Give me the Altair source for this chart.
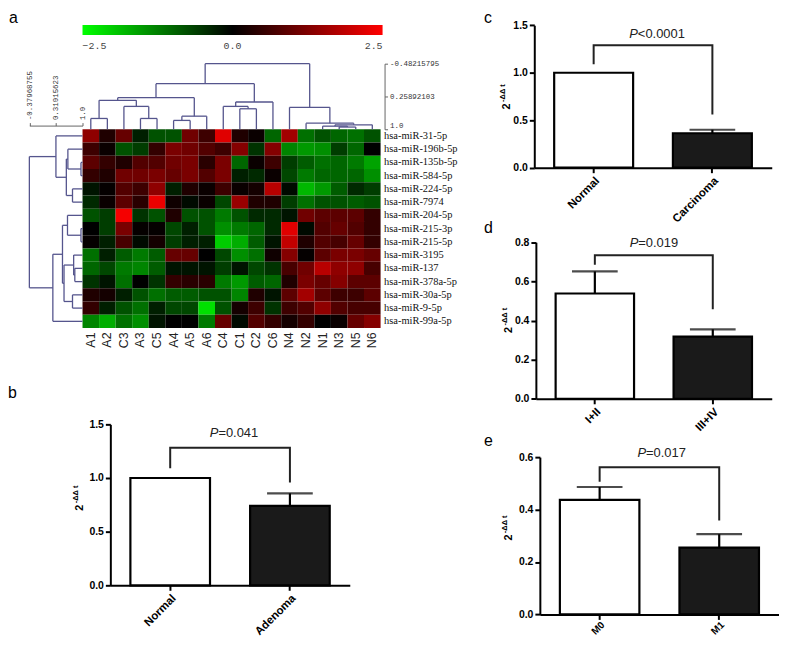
import json
import altair as alt
import pandas as pd

# ---------------- data ----------------
col_names = ["A1", "A2", "C3", "A3", "C5", "A4", "A5", "A6", "C4", "C1", "C2", "C6",
             "N4", "N2", "N1", "N3", "N5", "N6"]
row_names = ["hsa-miR-31-5p", "hsa-miR-196b-5p", "hsa-miR-135b-5p", "hsa-miR-584-5p",
             "hsa-miR-224-5p", "hsa-miR-7974", "hsa-miR-204-5p", "hsa-miR-215-3p",
             "hsa-miR-215-5p", "hsa-miR-3195", "hsa-miR-137", "hsa-miR-378a-5p",
             "hsa-miR-30a-5p", "hsa-miR-9-5p", "hsa-miR-99a-5p"]

mir_31_5p = [1.4, 0.3, 1.0, -0.3, -0.8, -0.8, 1.1, 0.6, 2.2, 0.3, 0.1, -1.0, 1.6, -1.1, -0.8, -1.0, -1.1, -0.8]
mir_196b_5p = [0.6, 0.1, -0.8, -0.6, 0.5, 1.2, 1.1, 0.8, 0.6, 1.3, -0.5, 1.3, -1.3, -1.5, -1.4, -0.6, -1.0, 0.0]
mir_135b_5p = [0.9, 0.5, 0.3, 0.8, 0.8, 1.1, 1.2, 0.4, 1.2, -1.0, 0.1, 0.6, -0.6, -0.9, -1.1, -1.0, -1.2, -1.6]
mir_584_5p = [0.5, 0.3, 1.1, 1.1, 1.2, 1.0, 1.2, 0.8, 1.2, -0.3, -0.4, 0.1, -0.7, -1.2, -1.0, -1.0, -1.0, -1.4]
mir_224_5p = [-0.2, 0.05, 0.8, 0.6, 1.4, -0.3, 0.3, 0.1, 0.6, 0.1, 0.2, 1.8, -0.1, -1.8, -1.5, -0.9, -0.4, -0.6]
mir_7974 = [-0.4, 0.1, 0.9, 0.4, 2.3, 0.15, -0.1, 0.1, -0.7, 1.5, 0.3, 0.3, -0.6, -1.1, -0.8, -0.8, -0.9, -0.8]
mir_204_5p = [-0.8, -0.6, 2.4, -0.5, -0.8, 0.3, -0.8, -0.8, -1.2, -0.8, -0.4, -0.4, -0.2, 1.1, 0.9, 0.9, 0.9, 0.5]
mir_215_3p = [0.0, -0.6, 1.2, 0.05, 0.05, -0.7, -0.3, -0.8, -1.4, -1.2, -1.0, -0.4, 2.2, -0.1, 0.8, 1.0, 0.8, 0.5]
mir_215_5p = [0.05, -0.3, 0.7, -0.1, 0.2, -0.6, -0.3, -0.3, -2.0, -1.7, -0.9, -0.2, 1.9, 0.3, 0.8, 0.7, 1.0, 0.5]
mir_3195 = [-1.1, -0.3, -0.9, -1.2, -0.9, 1.0, 1.0, 0.0, -0.7, -1.4, -1.1, 0.15, 1.3, 0.05, 0.9, 1.2, 1.2, 1.0]
mir_137 = [-1.0, -0.7, -1.2, -1.3, -0.9, -0.2, -0.2, -0.2, -0.6, -0.2, -0.7, -0.5, 0.7, 1.1, 1.8, 1.4, 1.4, 0.7]
mir_378a_5p = [-0.5, -0.2, -1.1, 0.0, -0.5, 0.5, 0.4, 0.4, -1.2, -1.5, -0.9, -1.0, 0.3, 1.2, 1.0, 1.3, 0.9, 0.9]
mir_30a_5p = [0.3, 0.2, -0.3, -0.8, -1.1, -0.9, -0.9, -0.8, -0.8, -1.3, 0.3, -0.2, 0.9, 1.6, 0.9, 0.6, 0.6, 0.9]
mir_9_5p = [0.5, -0.3, -0.8, -1.1, -0.3, -0.7, -0.7, -2.2, -0.8, 0.2, 0.6, -0.5, 0.6, 0.8, 1.4, 0.8, 0.7, 0.7]
mir_99a_5p = [-1.3, -1.7, -1.1, -1.4, -0.2, 0.0, 0.0, -1.2, 1.0, -0.1, 0.8, 0.5, 0.2, 0.5, 0.0, 0.1, 1.0, 1.3]

heat_matrix = [mir_31_5p, mir_196b_5p, mir_135b_5p, mir_584_5p, mir_224_5p, mir_7974,
               mir_204_5p, mir_215_3p, mir_215_5p, mir_3195, mir_137, mir_378a_5p,
               mir_30a_5p, mir_9_5p, mir_99a_5p]

color_ticks = [-2.5, 0.0, 2.5]

# column dendrogram: (child a, child b, merge height); leaves 0..17, merges numbered from 18
top_links = [(0, 1, 0.756), (3, 4, 0.756), (2, 19, 0.483), (18, 20, 0.346),
             (5, 6, 0.80), (22, 7, 0.704), (21, 23, 0.286),
             (9, 10, 0.537), (8, 25, 0.483), (26, 11, 0.384), (24, 27, -0.03),
             (15, 16, 0.95), (14, 29, 0.93), (30, 17, 0.90), (13, 31, 0.863), (12, 32, 0.505),
             (28, 33, -0.48215795)]
top_axis_values = [-0.48215795, 0.25892103, 1.0]
top_axis_labels = ["-0.48215795", "0.25892103", "1.0"]

# row dendrogram: leaves 0..14, merges numbered from 15
left_links = [(2, 3, 0.96), (1, 15, 0.62), (4, 5, 0.74), (16, 17, 0.58), (0, 18, 0.31),
              (7, 8, 0.96), (6, 20, 0.61), (10, 11, 0.80), (9, 22, 0.77), (12, 13, 0.74),
              (23, 24, 0.52), (21, 25, 0.48), (26, 14, 0.23), (19, 27, -0.37968755)]
left_axis_values = [-0.37968755, 0.31015623, 1.0]
left_axis_labels = ["-0.37968755", "0.31015623", "1.0"]

b_groups = ["Normal", "Adenoma"]
b_means = [1.0, 0.74]
b_err_groups = ["Adenoma"]
b_err_tops = [0.857]
b_bracket = [1.09, 1.283, 0.957]
b_p = "=0.041"
b_p_y = 1.415
b_ticks = [0.0, 0.5, 1.0, 1.5]

c_groups = ["Normal", "Carcinoma"]
c_means = [1.0, 0.363]
c_err_groups = ["Carcinoma"]
c_err_tops = [0.40]
c_bracket = [1.09, 1.29, 0.56]
c_p = "<0.0001"
c_p_y = 1.41
c_ticks = [0.0, 0.5, 1.0, 1.5]

d_groups = ["I+II", "III+IV"]
d_means = [0.538, 0.318]
d_err_groups = ["I+II", "III+IV"]
d_err_tops = [0.651, 0.355]
d_bracket = [0.685, 0.733, 0.458]
d_p = "=0.019"
d_p_y = 0.796
d_ticks = [0.0, 0.2, 0.4, 0.6, 0.8]

e_groups = ["M0", "M1"]
e_means = [0.437, 0.255]
e_err_groups = ["M0", "M1"]
e_err_tops = [0.486, 0.306]
e_bracket = [0.506, 0.561, 0.358]
e_p = "=0.017"
e_p_y = 0.615
e_ticks = [0.0, 0.2, 0.4, 0.6]

# ---------------- layout (chart coordinates) ----------------
W, H = 776, 632
SANS = "Liberation Sans"
DEND = "#55558d"

layers = []


def dendro_segments(links, n_leaves, base=1.0):
    pos = [i + 0.5 for i in range(n_leaves)]
    hgt = [base] * n_leaves
    legs, bars = [], []
    for a, b, h in links:
        for c in (a, b):
            legs.append({"p": pos[c], "h1": hgt[c], "h2": h})
        bars.append({"p1": pos[a], "p2": pos[b], "h": h})
        pos.append((pos[a] + pos[b]) / 2)
        hgt.append(h)
    return pd.DataFrame(legs), pd.DataFrame(bars)


def label_expr(values, labels):
    return f"{json.dumps(labels)}[indexof({json.dumps(values)}, datum.value)]"


# ---- panel a: heatmap ----
HX0, HX1, HY0, HY1 = 75, 375, 120, 320
heat_df = pd.DataFrame([{"row": rn, "col": cn, "v": v}
                        for rn, vals in zip(row_names, heat_matrix)
                        for cn, v in zip(col_names, vals)])

heat = alt.Chart(heat_df).mark_rect().encode(
    x=alt.X("col:N", sort=col_names,
            scale=alt.Scale(domain=col_names, range=[HX0, HX1], paddingInner=0, paddingOuter=0),
            axis=alt.Axis(orient="bottom", offset=HY1 - H, labelAngle=270, labelAlign="right",
                          labelBaseline="middle", labelPadding=4, domain=False, ticks=False,
                          labelFont=SANS, labelFontSize=12.5, labelColor="#222", title=None, grid=False)),
    y=alt.Y("row:N", sort=row_names,
            scale=alt.Scale(domain=row_names, range=[HY0, HY1], paddingInner=0, paddingOuter=0),
            axis=alt.Axis(orient="right", offset=HX1 - W, labelPadding=3, domain=False, ticks=False,
                          labelFont="Liberation Serif", labelFontSize=10.5, labelColor="#111",
                          title=None, grid=False)),
    color=alt.Color("v:Q",
                    scale=alt.Scale(domain=[-2.5, 0, 2.5], range=["#00ff00", "#000000", "#ff0000"],
                                    interpolate="rgb"),
                    legend=alt.Legend(orient="none", legendX=HX0, legendY=15, direction="horizontal",
                                      gradientLength=302, gradientThickness=10, title=None,
                                      values=color_ticks, format=".1f", labelFont="Liberation Mono",
                                      labelFontSize=10, labelColor="#444", labelOffset=6,
                                      padding=0, gradientStrokeWidth=0)),
)
layers.append(heat)

# top dendrogram
top_legs, top_bars = dendro_segments(top_links, len(col_names))
tx_scale = alt.Scale(domain=[0, len(col_names)], range=[HX0, HX1], nice=False, zero=False)
ty_scale = alt.Scale(domain=[top_axis_values[0], 1.0], range=[54, HY0], nice=False, zero=False)
layers.append(alt.Chart(top_legs).mark_rule(color=DEND, strokeWidth=1.3).encode(
    x=alt.X("p:Q", scale=tx_scale, axis=None),
    y=alt.Y("h1:Q", scale=ty_scale,
            axis=alt.Axis(orient="right", offset=379 - W, values=top_axis_values,
                          labelExpr=label_expr(top_axis_values, top_axis_labels),
                          labelFont="Liberation Mono", labelFontSize=7.5, labelColor="#333",
                          domainColor="#666", tickColor="#666", tickSize=3, labelPadding=2,
                          labelFlush=False, labelOverlap=False,
                          labelBaseline={"condition": {"test": "datum.value >= 1", "value": "bottom"},
                                         "value": "middle"},
                          title=None, grid=False)),
    y2="h2:Q"))
layers.append(alt.Chart(top_bars).mark_rule(color=DEND, strokeWidth=1.3).encode(
    x=alt.X("p1:Q", scale=tx_scale, axis=None), x2="p2:Q",
    y=alt.Y("h:Q", scale=ty_scale, axis=None)))

# left dendrogram
left_legs, left_bars = dendro_segments(left_links, len(row_names))
lx_scale = alt.Scale(domain=[left_axis_values[0], 1.0], range=[21.5, HX0], nice=False, zero=False)
ly_scale = alt.Scale(domain=[0, len(row_names)], range=[HY0, HY1], nice=False, zero=False)
layers.append(alt.Chart(left_legs).mark_rule(color=DEND, strokeWidth=1.3).encode(
    x=alt.X("h1:Q", scale=lx_scale,
            axis=alt.Axis(orient="top", offset=-116.3, values=left_axis_values,
                          labelExpr=label_expr(left_axis_values, left_axis_labels),
                          labelAngle=270, labelAlign="left", labelBaseline="middle",
                          labelFont="Liberation Mono", labelFontSize=7.5, labelColor="#333",
                          domainColor="#666", tickColor="#666", tickSize=3, labelPadding=3,
                          labelFlush=False, labelOverlap=False, title=None, grid=False)),
    x2="h2:Q",
    y=alt.Y("p:Q", scale=ly_scale, axis=None)))
layers.append(alt.Chart(left_bars).mark_rule(color=DEND, strokeWidth=1.3).encode(
    y=alt.Y("p1:Q", scale=ly_scale, axis=None), y2="p2:Q",
    x=alt.X("h:Q", scale=lx_scale, axis=None)))


# ---- bar panels ----
def bar_panel(groups, means, err_groups, err_tops, bracket, p_rest, p_y, ymax, ticks,
              x0, x1, y0, y1, p_dx, title_xy, xlab_size=11.5, xlab_pad=2):
    xs = alt.Scale(domain=groups, range=[x0, x1], paddingInner=0.335, paddingOuter=0.1675)
    ys = alt.Scale(domain=[0, ymax], range=[y0, y1], nice=False, zero=False)

    def X(axis=None):
        return alt.X("g:N", sort=groups, scale=xs, axis=axis, title=None)

    def Y(field, axis=None):
        return alt.Y(field, scale=ys, axis=axis, title=None)

    out = []
    bars = alt.Chart(pd.DataFrame({"g": groups, "m": means})).mark_bar(
        stroke="black", strokeWidth=2.2).encode(
        x=X(alt.Axis(orient="bottom", offset=y0 - H, labelAngle=-45, labelFont=SANS,
                     labelFontWeight="bold", labelFontSize=xlab_size, labelColor="black",
                     domainColor="black", domainWidth=2, tickColor="black", tickWidth=2,
                     tickSize=5, labelPadding=xlab_pad, title=None, grid=False)),
        y=Y("m:Q", alt.Axis(orient="left", offset=-x0, values=ticks, format=".1f",
                            labelFont=SANS, labelFontWeight="bold", labelFontSize=10.5,
                            labelColor="black", domainColor="black", domainWidth=2,
                            tickColor="black", tickWidth=2, tickSize=5, labelPadding=2,
                            labelFlush=False, title=None, grid=False)),
        fill=alt.condition(alt.datum.g == groups[0], alt.value("white"), alt.value("#1a1a1a")),
    )
    out.append(bars)

    edf = pd.DataFrame({"g": err_groups, "top": err_tops,
                        "m": [means[groups.index(g)] for g in err_groups]})
    out.append(alt.Chart(edf).mark_rule(color="black", strokeWidth=2.2).encode(
        x=X(), y=Y("m:Q"), y2="top:Q"))
    out.append(alt.Chart(edf).mark_tick(color="black", size=46, thickness=2.2).encode(
        x=X(), y=Y("top:Q")))

    left, top, right = bracket
    bdf = pd.DataFrame({"g": [groups[0], groups[0], groups[1], groups[1]],
                        "v": [left, top, top, right], "o": [0, 1, 2, 3]})
    out.append(alt.Chart(bdf).mark_line(color="#222", strokeWidth=2, strokeJoin="miter").encode(
        x=X(), y=Y("v:Q"), order="o:Q"))

    tdf = pd.DataFrame({"g": [groups[0]], "y": [p_y], "a": ["P"], "b": [p_rest]})
    out.append(alt.Chart(tdf).mark_text(align="right", baseline="middle", font=SANS,
                                        fontSize=13, fontStyle="italic", color="#222",
                                        dx=p_dx).encode(x=X(), y=Y("y:Q"), text="a:N"))
    out.append(alt.Chart(tdf).mark_text(align="left", baseline="middle", font=SANS,
                                        fontSize=13, color="#222",
                                        dx=p_dx).encode(x=X(), y=Y("y:Q"), text="b:N"))

    tx, ty = title_xy
    out.append(alt.Chart(pd.DataFrame({"t": ["2"]})).mark_text(
        angle=270, align="left", baseline="alphabetic", font=SANS, fontSize=11,
        fontWeight="bold", color="black").encode(x=alt.value(tx), y=alt.value(ty), text="t:N"))
    out.append(alt.Chart(pd.DataFrame({"t": ["-\u0394\u0394 t"]})).mark_text(
        angle=270, align="left", baseline="alphabetic", font=SANS, fontSize=7.5,
        fontWeight="bold", color="black").encode(x=alt.value(tx - 4.5), y=alt.value(ty - 7.5),
                                                 text="t:N"))
    return out


layers += bar_panel(b_groups, b_means, b_err_groups, b_err_tops, b_bracket, b_p, b_p_y, 1.5,
                    b_ticks, 103, 344, 579, 417, 48.5, (75, 504))
layers += bar_panel(c_groups, c_means, c_err_groups, c_err_tops, c_bracket, c_p, c_p_y, 1.5,
                    c_ticks, 529.7, 768.7, 158.7, 15.3, 44.5, (505, 100))
layers += bar_panel(d_groups, d_means, d_err_groups, d_err_tops, d_bracket, d_p, d_p_y, 0.8,
                    d_ticks, 531.3, 768.7, 391.3, 233.7, 43.7, (507, 325))
layers += bar_panel(e_groups, e_means, e_err_groups, e_err_tops, e_bracket, e_p, e_p_y, 0.6,
                    e_ticks, 535.3, 776, 608.3, 450, 46.7, (507, 534),
                    xlab_size=10, xlab_pad=0)

# panel letters
panel_letters = ["a", "b", "c", "d", "e"]
letter_pos = [(1, 13), (0, 390), (479, 13), (479, 224), (479, 439)]
for letter, (lx, ly) in zip(panel_letters, letter_pos):
    layers.append(alt.Chart(pd.DataFrame({"t": [letter]})).mark_text(
        align="left", baseline="alphabetic", font=SANS, fontSize=16, color="black").encode(
        x=alt.value(lx), y=alt.value(ly), text="t:N"))

chart = alt.layer(*layers).resolve_scale(
    x="independent", y="independent", color="independent"
).properties(
    width=W, height=H, padding=0, autosize=alt.AutoSizeParams(type="none")
).configure_view(stroke=None)

chart.save("out.html", embed_options={"renderer": "svg", "actions": False})
